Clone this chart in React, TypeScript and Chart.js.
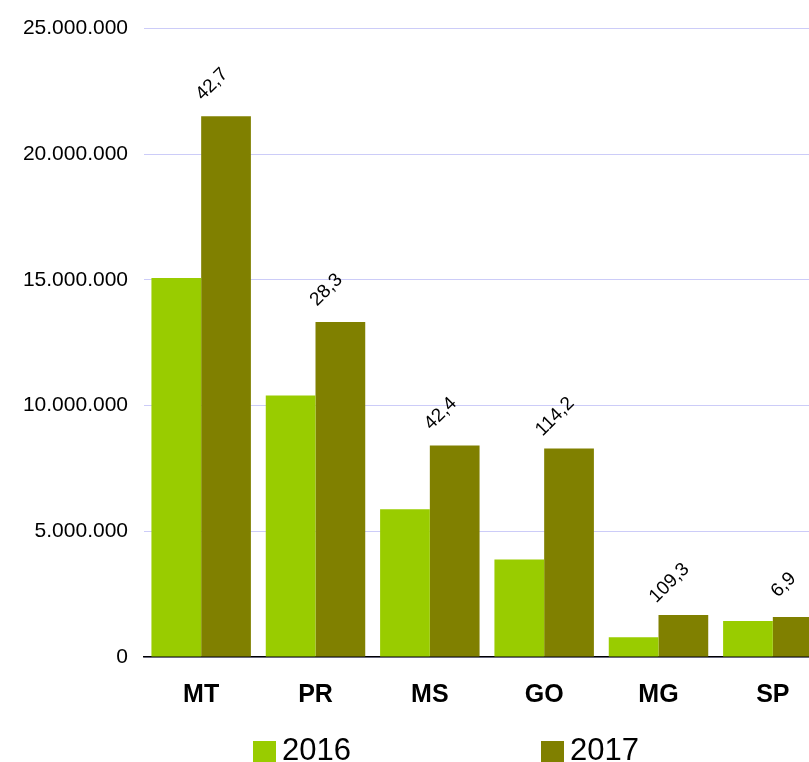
import React, { useEffect, useRef } from "react";
import { Chart, registerables } from "chart.js";

Chart.register(...registerables);

const categories = ["MT", "PR", "MS", "GO", "MG", "SP"];
const values2016 = [15080000, 10400000, 5880000, 3880000, 790000, 1430000];
const values2017 = [21510000, 13330000, 8410000, 8290000, 1670000, 1590000];
const growthLabels = ["42,7", "28,3", "42,4", "114,2", "109,3", "6,9"];
const seriesNames = ["2016", "2017"];
const seriesColors = ["#99CC00", "#808000"];
const yTicks = [0, 5000000, 10000000, 15000000, 20000000, 25000000];

const FONT = "'Liberation Sans', Arial, sans-serif";

function fmt(v: number): string {
  return String(Math.round(v)).replace(/\B(?=(\d{3})+(?!\d))/g, ".");
}

const growthLabelPlugin = {
  id: "growthLabels",
  afterDatasetsDraw(chart: any) {
    const meta = chart.getDatasetMeta(1);
    const ctx = chart.ctx;
    ctx.save();
    ctx.font = `19px ${FONT}`;
    ctx.fillStyle = "#000";
    ctx.textAlign = "center";
    ctx.textBaseline = "middle";
    meta.data.forEach((bar: any, i: number) => {
      ctx.save();
      ctx.translate(bar.x - 14, bar.y - 32);
      ctx.rotate(-Math.PI / 4);
      ctx.fillText(growthLabels[i], 0, 0);
      ctx.restore();
    });
    ctx.restore();
  },
};

const legendPlugin = {
  id: "customLegend",
  afterDraw(chart: any) {
    const ctx = chart.ctx;
    const positions = [253, 541];
    ctx.save();
    ctx.font = `31px ${FONT}`;
    ctx.textAlign = "left";
    ctx.textBaseline = "alphabetic";
    seriesNames.forEach((name, i) => {
      const x = positions[i];
      ctx.fillStyle = seriesColors[i];
      ctx.fillRect(x, 741, 23, 23);
      ctx.fillStyle = "#000";
      ctx.fillText(name, x + 29, 760);
    });
    ctx.restore();
  },
};

export default function App() {
  const ref = useRef<HTMLCanvasElement>(null);

  useEffect(() => {
    if (!ref.current) return;
    const chart = new Chart(ref.current, {
      type: "bar",
      data: {
        labels: categories,
        datasets: [
          {
            label: seriesNames[0],
            data: values2016,
            backgroundColor: seriesColors[0],
            borderWidth: 0,
          },
          {
            label: seriesNames[1],
            data: values2017,
            backgroundColor: seriesColors[1],
            borderWidth: 0,
          },
        ],
      },
      options: {
        responsive: false,
        animation: false,
        devicePixelRatio: 1,
        layout: { padding: { left: 0, right: 8, top: 27, bottom: 0 } },
        datasets: {
          bar: { categoryPercentage: 0.87, barPercentage: 1.0 },
        },
        plugins: {
          legend: { display: false },
          tooltip: { enabled: false },
        },
        scales: {
          x: {
            grid: { display: false, drawTicks: false },
            border: { display: true, color: "#000", width: 1.5 },
            ticks: {
              color: "#000",
              font: { family: FONT, size: 25, weight: "bold" },
              padding: 23,
              maxRotation: 0,
            },
            afterFit: (s: any) => {
              s.height = 105;
            },
          },
          y: {
            min: 0,
            max: 25000000,
            afterBuildTicks: (s: any) => {
              s.ticks = yTicks.map((v) => ({ value: v }));
            },
            grid: { color: "#ccccf8", lineWidth: 1, drawTicks: false },
            border: { display: false },
            ticks: {
              color: "#000",
              font: { family: FONT, size: 21 },
              padding: 16,
              callback: (v: any) => fmt(Number(v)),
            },
            afterFit: (s: any) => {
              s.width = 144;
            },
          },
        },
      },
      plugins: [growthLabelPlugin, legendPlugin],
    });
    return () => chart.destroy();
  }, []);

  return (
    <div
      style={{
        position: "absolute",
        left: 0,
        top: 0,
        width: 809,
        height: 762,
        overflow: "hidden",
        background: "#fff",
      }}
    >
      <canvas ref={ref} width={838} height={762} style={{ display: "block" }} />
    </div>
  );
}
